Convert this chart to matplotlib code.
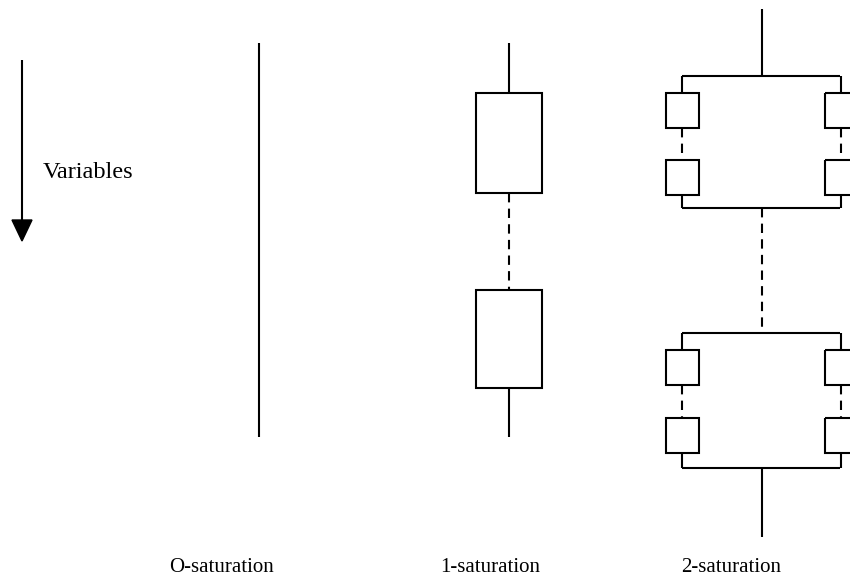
import matplotlib.pyplot as plt
from matplotlib.patches import Rectangle, Polygon

plt.rcParams['font.family'] = ['Liberation Serif', 'DejaVu Serif']

# labels under each column
labels = ['O-saturation', '1-saturation', '2-saturation']
label_x = [222, 490, 731]
arrow_text = 'Variables'

LW = 1.5
DASH = (0, (4.5, 3))

fig = plt.figure(figsize=(8.5, 5.77), dpi=100)
ax = fig.add_axes([0, 0, 1, 1])
ax.set_xlim(0, 850)
ax.set_ylim(577, 0)
ax.axis('off')


def line(x0, y0, x1, y1, dashed=False):
    ax.plot([x0, x1], [y0, y1], color='black', lw=LW,
            linestyle=DASH if dashed else '-', solid_capstyle='butt',
            dash_capstyle='butt')


def box(x0, y0, x1, y1):
    ax.add_patch(Rectangle((x0, y0), x1 - x0, y1 - y0, fill=False,
                           edgecolor='black', lw=LW))


# arrow on the left
line(22, 60, 22, 222)
ax.add_patch(Polygon([[12, 220], [32, 220], [22, 241]], closed=True,
                     color='black'))
ax.text(43, 178, arrow_text, fontsize=17.5, va='baseline', ha='left')

# 0-saturation
line(259, 43, 259, 437)

# 1-saturation
cx = 509
line(cx, 43, cx, 93)
box(476, 93, 542, 193)
line(cx, 193, cx, 290, dashed=True)
box(476, 290, 542, 388)
line(cx, 388, cx, 437)


# 2-saturation
def group(top, bottom, b1, b2):
    line(682, top, 840, top)
    line(682, bottom, 840, bottom)
    for bx in (682, 841):
        line(bx, top, bx, b1[0])
        box(bx - 16, b1[0], bx + 17, b1[1])
        line(bx, b1[1], bx, b2[0], dashed=True)
        box(bx - 16, b2[0], bx + 17, b2[1])
        line(bx, b2[1], bx, bottom)


cx = 762
line(cx, 9, cx, 76)
group(76, 208, (93, 128), (160, 195))
line(cx, 208, cx, 333, dashed=True)
group(333, 468, (350, 385), (418, 453))
line(cx, 468, cx, 537)

for lab, x in zip(labels, label_x):
    ax.text(x, 572, lab, fontsize=15, ha='center', va='baseline')

fig.savefig('out.png', dpi=100)
